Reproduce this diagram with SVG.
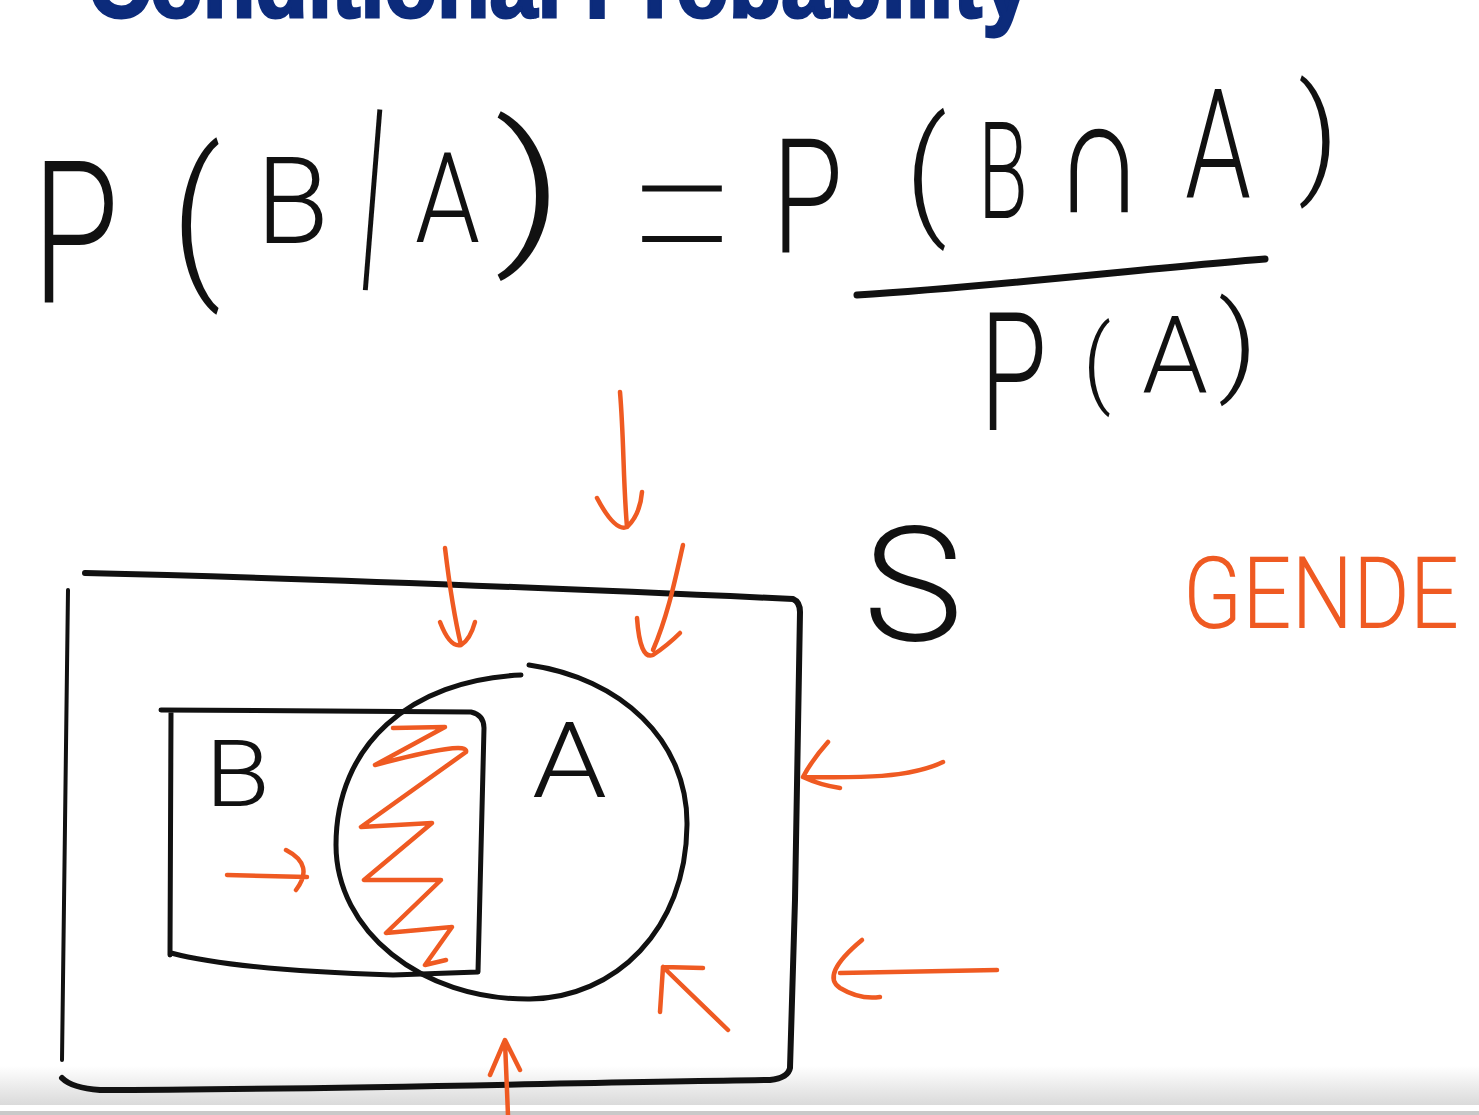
<svg xmlns="http://www.w3.org/2000/svg" width="1479" height="1115" viewBox="0 0 1479 1115">
  <defs>
    <linearGradient id="barGrad" x1="0" y1="0" x2="0" y2="1">
      <stop offset="0" stop-color="#ffffff"/>
      <stop offset="1" stop-color="#dadada"/>
    </linearGradient>
  </defs>
  <style>
    .title { font-family: "Liberation Sans", Arial, sans-serif; font-weight: 700; fill: #0c2b7b; stroke: #0c2b7b; stroke-width: 3; }
    .hw { font-family: Roboto, "Noto Sans", "DejaVu Sans", sans-serif; font-weight: 300; fill: #111; }
    .thin { font-family: Inter, "Noto Sans", Roboto, sans-serif; font-weight: 100; fill: #111; }
    .sym { font-family: "DejaVu Sans", sans-serif; font-weight: 200; fill: #111; }
    .hwo { font-family: Roboto, "Noto Sans", sans-serif; font-weight: 300; fill: #ef5a22; }
    .ink { fill: none; stroke: #111; stroke-linecap: round; stroke-linejoin: round; }
    .org { fill: none; stroke: #ef5a22; stroke-linecap: round; stroke-linejoin: round; stroke-width: 4.5; }
  </style>

  <rect x="0" y="0" width="1479" height="1115" fill="#ffffff"/>
  <!-- bottom video bar -->
  <rect x="0" y="1066" width="1479" height="39" fill="url(#barGrad)"/>
  <rect x="0" y="1111" width="1479" height="4" fill="#c9c9c9"/>

  <!-- title (cut off at top, as in the reference) -->
  <text class="title" x="88" y="17" font-size="96" textLength="942" lengthAdjust="spacingAndGlyphs">Conditional Probability</text>

  <!-- formula -->
  <g id="formula">
    <text class="hw" x="32" y="303" font-size="198" textLength="87" lengthAdjust="spacingAndGlyphs">P</text>
    <text class="hw" x="171" y="275" font-size="173" textLength="50" lengthAdjust="spacingAndGlyphs" font-weight="500">(</text>
    <text class="hw" x="256" y="243" font-size="121" textLength="73" lengthAdjust="spacingAndGlyphs">B</text>
    <text class="hw" x="361" y="262" font-size="215" textLength="22" lengthAdjust="spacingAndGlyphs" font-weight="500" transform="rotate(4.6 372 206)">|</text>
    <text class="hw" x="415" y="242" font-size="127" textLength="65" lengthAdjust="spacingAndGlyphs">A</text>
    <text class="hw" x="494" y="243" font-size="166" textLength="71" lengthAdjust="spacingAndGlyphs" font-weight="500">)</text>
    <text class="thin" x="607" y="289" font-size="265" textLength="150" lengthAdjust="spacingAndGlyphs">=</text>
    <text class="hw" x="772" y="252" font-size="160" textLength="71" lengthAdjust="spacingAndGlyphs">P</text>
    <text class="hw" x="905" y="219" font-size="140" textLength="42" lengthAdjust="spacingAndGlyphs">(</text>
    <text class="hw" x="978" y="218" font-size="135" textLength="50" lengthAdjust="spacingAndGlyphs">B</text>
    <text class="sym" x="1053" y="212" font-size="165" textLength="92" lengthAdjust="spacingAndGlyphs">∩</text>
    <text class="hw" x="1185" y="197" font-size="153" textLength="66" lengthAdjust="spacingAndGlyphs">A</text>
    <text class="hw" x="1298" y="179" font-size="130" textLength="41" lengthAdjust="spacingAndGlyphs">)</text>
    <path class="ink" d="M857,295 C1000,286 1150,268 1265,259" stroke-width="7"/>
    <text class="hw" x="980" y="430" font-size="166" textLength="67" lengthAdjust="spacingAndGlyphs">P</text>
    <text class="hw" x="1083" y="395" font-size="97" textLength="28" lengthAdjust="spacingAndGlyphs">(</text>
    <text class="hw" x="1142" y="392" font-size="108" textLength="66" lengthAdjust="spacingAndGlyphs">A</text>
    <text class="hw" x="1218" y="381" font-size="110" textLength="40" lengthAdjust="spacingAndGlyphs">)</text>
  </g>

  <!-- sample space S -->
  <g id="sample-space">
    <path class="ink" d="M85,573 C300,578 550,588 793,599 Q800,602 800,612 L795,900 L790,1068 Q788,1078 770,1080 C560,1083 300,1090 100,1090 Q72,1088 62,1078" stroke-width="6"/>
    <path class="ink" d="M68,590 C66,750 64,900 62,1060" stroke-width="4"/>
    <text class="hw" x="863" y="640" font-size="160" textLength="100" lengthAdjust="spacingAndGlyphs">S</text>
  </g>

  <!-- event B -->
  <g id="event-b">
    <path class="ink" d="M161,710 L471,712 Q484,715 484,728 L478,972 L393,975 C300,972 220,966 171,953 M171,713 L170,955" stroke-width="5"/>
    <text class="hw" x="205" y="806" font-size="92" textLength="65" lengthAdjust="spacingAndGlyphs">B</text>
  </g>

  <!-- event A -->
  <g id="event-a">
    <path class="ink" d="M529,665 C620,678 688,740 687,825 C686,930 615,998 530,999 C420,1000 336,930 336,845 C336,745 410,680 521,675" stroke-width="5"/>
    <text class="hw" x="532" y="797" font-size="105" textLength="75" lengthAdjust="spacingAndGlyphs" font-weight="500">A</text>
  </g>

  <!-- intersection shading -->
  <g id="intersection">
    <path class="org" d="M393,728 L445,727 L375,765 Q470,740 466,752 L361,827 L432,823 L364,880 L441,880 L386,933 L452,927 L425,965 L446,960" stroke-width="4"/>
  </g>

  <!-- GENDE label -->
  <g id="label-gende">
    <text class="hwo" x="1183" y="536.8" font-size="86" textLength="276" lengthAdjust="spacingAndGlyphs" transform="scale(1 1.17)">GENDE</text>
  </g>

  <!-- orange arrows -->
  <g id="connectors">
    <path class="org" d="M227,875 L307,877 M286,850 Q315,865 296,890"/>
    <path class="org" d="M620,392 C624,440 623,480 627,527 M597,498 Q615,532 627,527 Q640,515 642,492"/>
    <path class="org" d="M445,548 C450,590 455,620 461,645 M440,622 Q450,648 461,645 Q470,640 475,622"/>
    <path class="org" d="M683,545 C675,580 668,615 653,650 M637,618 Q640,660 653,655 Q668,645 680,633" stroke-width="6"/>
    <path class="org" d="M943,762 C910,778 860,778 803,777 M828,742 Q812,760 803,777 Q820,785 840,788" stroke-width="5"/>
    <path class="org" d="M997,970 L840,973 M862,940 Q820,975 840,988 Q860,1000 880,997" stroke-width="8"/>
    <path class="org" d="M728,1030 L663,967 M660,1012 L663,967 L703,968" stroke-width="5"/>
    <path class="org" d="M508,1115 L505,1042 M490,1075 L505,1040 L520,1070" stroke-width="5"/>
  </g>
</svg>
